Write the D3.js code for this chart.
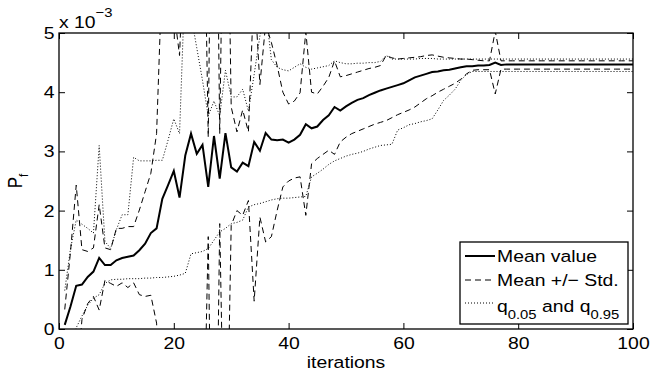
<!DOCTYPE html>
<html>
<head>
<meta charset="utf-8">
<script src="https://cdn.jsdelivr.net/npm/d3@7"></script>
<style>
  body { margin: 0; background: #fff; }
  svg { display: block; font-family: "Liberation Sans", Arial, Helvetica, sans-serif; }
</style>
</head>
<body>
<div id="chart"></div>
<script>
// #Data (values in units of 1e-3)
const iterations = d3.range(1, 101);
const meanValue = [
  0.07, 0.38, 0.73, 0.75, 0.88, 0.97, 1.20, 1.08, 1.08, 1.16,
  1.20, 1.22, 1.24, 1.33, 1.44, 1.62, 1.70, 2.20, 2.43, 2.67,
  2.22, 2.93, 3.30, 2.96, 3.11, 2.40, 3.26, 2.54, 3.31, 2.73,
  2.66, 2.81, 2.75, 3.16, 3.01, 3.31, 3.20, 3.19, 3.20, 3.15,
  3.20, 3.28, 3.46, 3.39, 3.42, 3.53, 3.61, 3.75, 3.69, 3.76,
  3.82, 3.87, 3.90, 3.95, 3.99, 4.03, 4.06, 4.09, 4.12, 4.15,
  4.20, 4.25, 4.28, 4.31, 4.34, 4.35, 4.37, 4.38, 4.40, 4.42,
  4.44, 4.44, 4.45, 4.45, 4.46, 4.50, 4.46, 4.47, 4.47, 4.47,
  4.47, 4.47, 4.47, 4.47, 4.47, 4.47, 4.47, 4.47, 4.47, 4.47,
  4.47, 4.47, 4.47, 4.47, 4.47, 4.47, 4.47, 4.47, 4.47, 4.47
];
const meanPlusStd = [
  0.33, 1.30, 2.43, 1.34, 1.31, 1.37, 2.10, 1.37, 1.34, 1.70,
  1.70, 1.73, 1.73, 2.01, 2.32, 2.63, 3.30, 6.10, 7.00, 5.40,
  4.62, 7.00, 8.30, 8.50, 9.10, 3.24, 12.0, 3.30, 10.1, 3.75,
  3.33, 3.70, 3.33, 5.85, 4.13, 5.15, 4.84, 4.45, 4.00, 3.80,
  3.85, 3.99, 5.02, 4.00, 3.97, 4.10, 4.25, 4.53, 4.26, 4.28,
  4.31, 4.34, 4.37, 4.40, 4.42, 4.45, 4.62, 4.58, 4.56, 4.57,
  4.58, 4.59, 4.60, 4.62, 4.63, 4.61, 4.59, 4.58, 4.57, 4.56,
  4.56, 4.55, 4.54, 4.53, 4.53, 5.03, 4.53, 4.53, 4.53, 4.53,
  4.53, 4.53, 4.53, 4.53, 4.53, 4.53, 4.53, 4.53, 4.53, 4.53,
  4.53, 4.53, 4.53, 4.53, 4.53, 4.53, 4.53, 4.53, 4.53, 4.53
];
const meanMinusStd = [
  -0.19, -0.55, -0.97, 0.16, 0.43, 0.55, 0.32, 0.82, 0.77, 0.72,
  0.78, 0.70, 0.78, 0.58, 0.55, 0.57, 0.10, -1.70, -2.10, -0.50,
  -0.30, -1.20, -1.70, -2.50, -2.90, 1.56, -5.50, 1.78, -3.50, 1.75,
  2.00, 1.92, 2.17, 0.47, 1.89, 1.47, 1.56, 2.00, 2.40, 2.50,
  2.55, 2.57, 1.92, 2.79, 2.88, 2.95, 3.02, 2.95, 3.16, 3.24,
  3.30, 3.34, 3.38, 3.42, 3.46, 3.49, 3.52, 3.57, 3.62, 3.66,
  3.70, 3.75, 3.82, 3.89, 3.94, 4.00, 4.05, 4.10, 4.15, 4.22,
  4.31, 4.37, 4.38, 4.38, 4.38, 3.97, 4.39, 4.39, 4.39, 4.39,
  4.39, 4.39, 4.39, 4.39, 4.39, 4.39, 4.39, 4.39, 4.39, 4.39,
  4.39, 4.39, 4.39, 4.39, 4.39, 4.39, 4.39, 4.39, 4.39, 4.39
];
const q95 = [
  0.65, 1.35, 1.84, 1.77, 1.70, 1.62, 3.10, 1.48, 1.36, 1.68,
  1.93, 1.93, 2.90, 2.84, 2.84, 2.84, 2.85, 2.85, 3.19, 3.55,
  3.30, 6.00, 5.30, 4.75, 4.20, 3.60, 3.85, 3.60, 4.37, 3.92,
  3.92, 4.05, 3.68, 4.30, 4.95, 5.40, 4.55, 4.42, 4.38, 4.36,
  4.42, 4.48, 4.42, 4.39, 4.41, 4.43, 4.45, 4.53, 4.50, 4.48,
  4.48, 4.49, 4.49, 4.50, 4.50, 4.52, 4.62, 4.56, 4.56, 4.56,
  4.56, 4.56, 4.57, 4.57, 4.57, 4.56, 4.56, 4.56, 4.56, 4.56,
  4.56, 4.56, 4.56, 4.56, 4.56, 4.56, 4.56, 4.56, 4.56, 4.56,
  4.56, 4.56, 4.56, 4.56, 4.56, 4.56, 4.56, 4.56, 4.56, 4.56,
  4.56, 4.56, 4.56, 4.56, 4.56, 4.56, 4.56, 4.56, 4.56, 4.56
];
const q05 = [
  -0.80, -0.35, 0.02, 0.22, 0.40, 0.52, 0.58, 0.77, 0.83, 0.84,
  0.84, 0.85, 0.85, 0.85, 0.86, 0.86, 0.87, 0.87, 0.88, 0.89,
  0.91, 0.94, 1.27, 1.29, 1.31, 1.36, 1.50, 1.64, 1.70, 1.78,
  1.80, 1.84, 2.06, 2.10, 2.12, 2.15, 2.18, 2.20, 2.21, 2.21,
  2.22, 2.23, 2.24, 2.57, 2.63, 2.70, 2.78, 2.84, 2.88, 2.92,
  2.95, 2.97, 3.00, 3.04, 3.07, 3.10, 3.11, 3.12, 3.36, 3.40,
  3.45, 3.47, 3.50, 3.52, 3.55, 3.70, 3.86, 3.95, 4.05, 4.20,
  4.30, 4.35, 4.35, 4.35, 4.35, 4.35, 4.35, 4.35, 4.35, 4.35,
  4.35, 4.35, 4.35, 4.35, 4.35, 4.35, 4.35, 4.35, 4.35, 4.35,
  4.35, 4.35, 4.35, 4.35, 4.35, 4.35, 4.35, 4.35, 4.35, 4.35
];
const xTicks = [0, 20, 40, 60, 80, 100];
const yTicks = [0, 1, 2, 3, 4, 5];
const legendLabels = ['Mean value', 'Mean +/\u2212 Std.'];

// #SVG dimensions
const w = 668;
const h = 374;
const plotLeft = 59, plotRight = 633, plotTop = 33, plotBottom = 329;
const fontSize = 17;
const stretch = 'scale(1.14,1)';
const tickLen = 6;

const svg = d3.select('#chart')
              .append('svg')
              .attr('width', w)
              .attr('height', h);

// #Scales
const xScale = d3.scaleLinear().domain([0, 100]).range([plotLeft, plotRight]);
const yScale = d3.scaleLinear().domain([0, 5]).range([plotBottom, plotTop]);

svg.append('clipPath')
   .attr('id', 'plot-clip')
   .append('rect')
   .attr('x', plotLeft)
   .attr('y', plotTop)
   .attr('width', plotRight - plotLeft)
   .attr('height', plotBottom - plotTop);

// #Lines
const line = values => d3.line()
  .x((d, i) => xScale(iterations[i]))
  .y(d => yScale(d))(values);

const series = [
  {values: q95, dash: '1,2', width: 1},
  {values: q05, dash: '1,2', width: 1},
  {values: meanPlusStd, dash: '6,4', width: 1},
  {values: meanMinusStd, dash: '6,4', width: 1},
  {values: meanValue, dash: null, width: 2}
];

const plot = svg.append('g').attr('clip-path', 'url(#plot-clip)');
series.forEach(s => {
  plot.append('path')
      .attr('d', line(s.values))
      .attr('fill', 'none')
      .attr('stroke', '#000')
      .attr('stroke-width', s.width)
      .attr('stroke-dasharray', s.dash);
});

// #Axes (ticks inside, box on)
const styleAxis = g => {
  g.select('.domain').remove();
  g.selectAll('line').attr('stroke', '#000');
  g.attr('font-size', fontSize).attr('font-family', null);
  g.selectAll('text').attr('fill', '#000').attr('transform', stretch);
};

svg.append('g')
   .attr('transform', 'translate(0,' + plotBottom + ')')
   .call(d3.axisBottom(xScale).tickValues(xTicks).tickSizeInner(-tickLen).tickSizeOuter(0).tickPadding(8))
   .call(styleAxis);
svg.append('g')
   .attr('transform', 'translate(0,' + plotTop + ')')
   .call(d3.axisTop(xScale).tickValues(xTicks).tickSizeInner(-tickLen).tickSizeOuter(0).tickFormat(''))
   .call(styleAxis);
svg.append('g')
   .attr('transform', 'translate(' + plotLeft + ',0)')
   .call(d3.axisLeft(yScale).tickValues(yTicks).tickSizeInner(-tickLen).tickSizeOuter(0).tickPadding(4).tickFormat(d3.format('d')))
   .call(styleAxis);
svg.append('g')
   .attr('transform', 'translate(' + plotRight + ',0)')
   .call(d3.axisRight(yScale).tickValues(yTicks).tickSizeInner(-tickLen).tickSizeOuter(0).tickFormat(''))
   .call(styleAxis);

svg.append('rect')
   .attr('x', plotLeft)
   .attr('y', plotTop)
   .attr('width', plotRight - plotLeft)
   .attr('height', plotBottom - plotTop)
   .attr('fill', 'none')
   .attr('stroke', '#000')
   .attr('stroke-width', 1.3);

// #Labels
svg.append('text')
   .attr('transform', 'translate(' + ((plotLeft + plotRight) / 2) + ',368) ' + stretch)
   .attr('text-anchor', 'middle')
   .attr('font-size', fontSize)
   .text('iterations');

const yLabel = svg.append('text')
   .attr('transform', 'translate(22,' + ((plotTop + plotBottom) / 2) + ') ' + stretch + ' rotate(-90)')
   .attr('text-anchor', 'middle')
   .attr('font-size', fontSize);
yLabel.append('tspan').text('P');
yLabel.append('tspan').attr('font-size', 12).attr('dy', 5).text('f');

const expLabel = svg.append('text')
   .attr('transform', 'translate(' + plotLeft + ',28) ' + stretch)
   .attr('font-size', fontSize);
expLabel.append('tspan').text('x 10');
expLabel.append('tspan').attr('font-size', 13).attr('dy', -11).text('\u22123');

// #Legend
const legend = svg.append('g').attr('transform', 'translate(460,242)');
legend.append('rect')
      .attr('width', 168)
      .attr('height', 82)
      .attr('fill', '#fff')
      .attr('stroke', '#000')
      .attr('stroke-width', 1.3);

const legendRows = [
  {dash: null, width: 2, y: 14},
  {dash: '6,4', width: 1, y: 38},
  {dash: '1,2', width: 1, y: 61}
];
legendRows.forEach(r => {
  legend.append('line')
        .attr('x1', 5).attr('x2', 35)
        .attr('y1', r.y).attr('y2', r.y)
        .attr('stroke', '#000')
        .attr('stroke-width', r.width)
        .attr('stroke-dasharray', r.dash);
});
legendLabels.forEach((label, i) => {
  legend.append('text')
        .attr('transform', 'translate(37,' + (legendRows[i].y + 6.3) + ') ' + stretch)
        .attr('font-size', fontSize)
        .text(label);
});
const qText = legend.append('text')
      .attr('transform', 'translate(37,' + (legendRows[2].y + 8.7) + ') ' + stretch)
      .attr('font-size', fontSize);
qText.append('tspan').text('q');
qText.append('tspan').attr('font-size', 13).attr('dy', 7).text('0.05');
qText.append('tspan').attr('dy', -7).text(' and q');
qText.append('tspan').attr('font-size', 13).attr('dy', 7).text('0.95');
</script>
</body>
</html>
